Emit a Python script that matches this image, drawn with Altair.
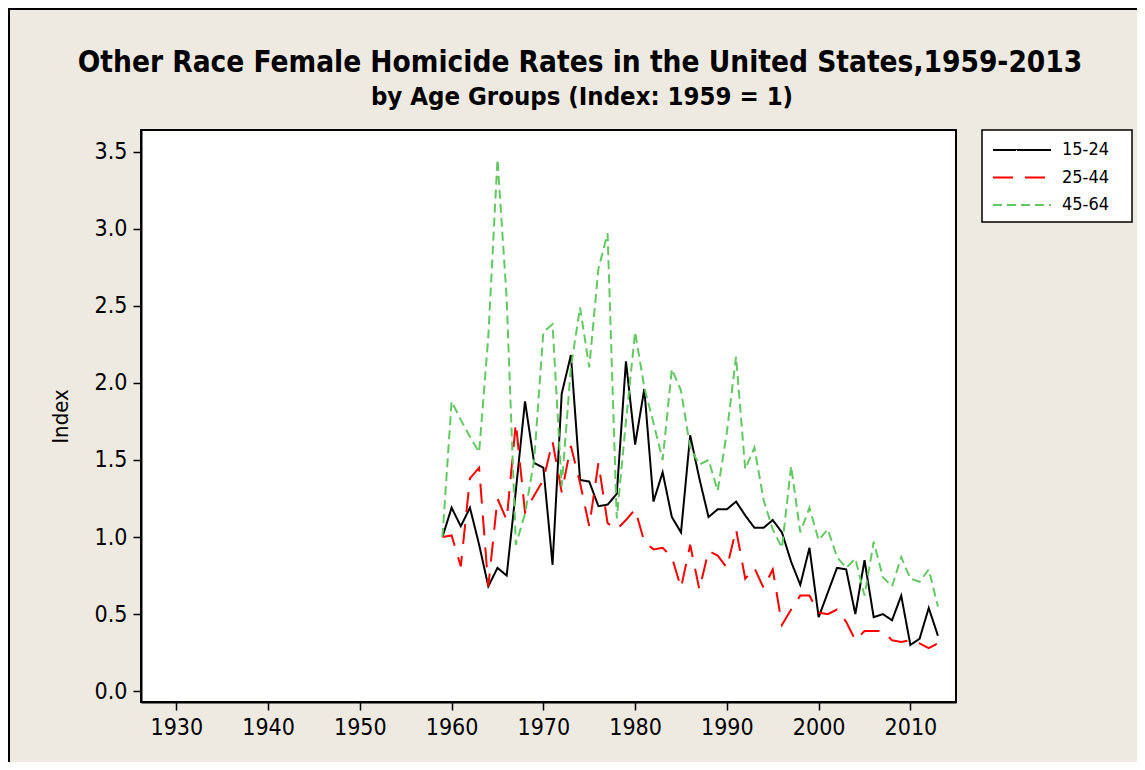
import altair as alt
import pandas as pd

years = list(range(1959, 2014))

age_15_24 = [1.00, 1.19, 1.07, 1.19, 0.95, 0.68, 0.80, 0.75, 1.30, 1.88,
             1.48, 1.45, 0.82, 1.93, 2.18, 1.37, 1.36, 1.20, 1.21, 1.28,
             2.14, 1.60, 1.96, 1.23, 1.42, 1.13, 1.03, 1.66, 1.38, 1.13,
             1.18, 1.18, 1.23, 1.14, 1.06, 1.06, 1.11, 1.03, 0.84, 0.69,
             0.93, 0.48, 0.64, 0.80, 0.79, 0.50, 0.85, 0.48, 0.50, 0.46,
             0.62, 0.30, 0.34, 0.54, 0.36]

age_25_44 = [1.00, 1.01, 0.81, 1.38, 1.45, 0.68, 1.25, 1.11, 1.74, 1.16,
             1.27, 1.37, 1.62, 1.29, 1.59, 1.35, 1.07, 1.48, 1.09, 1.05,
             1.11, 1.18, 0.97, 0.92, 0.93, 0.87, 0.67, 0.95, 0.66, 0.91,
             0.88, 0.80, 1.05, 0.73, 0.80, 0.67, 0.79, 0.43, 0.53, 0.62,
             0.62, 0.51, 0.50, 0.53, 0.45, 0.33, 0.39, 0.39, 0.39, 0.33,
             0.32, 0.33, 0.31, 0.28, 0.31]

age_45_64 = [1.00, 1.88, 1.76, 1.65, 1.55, 2.30, 3.45, 2.55, 0.95, 1.15,
             1.50, 2.33, 2.38, 1.33, 2.10, 2.49, 2.10, 2.74, 2.97, 1.12,
             1.75, 2.33, 1.97, 1.74, 1.50, 2.09, 1.95, 1.58, 1.47, 1.50,
             1.30, 1.68, 2.17, 1.44, 1.58, 1.24, 1.05, 0.93, 1.46, 1.03,
             1.19, 0.98, 1.05, 0.87, 0.80, 0.86, 0.62, 0.97, 0.74, 0.68,
             0.87, 0.73, 0.71, 0.79, 0.55]

groups = ["15-24", "25-44", "45-64"]
group_colors = ["#000000", "#FF0000", "#62C962"]
group_dashes = [[1, 0], [20, 12], [9, 5]]

x_ticks = [1930, 1940, 1950, 1960, 1970, 1980, 1990, 2000, 2010]
y_ticks = [0.0, 0.5, 1.0, 1.5, 2.0, 2.5, 3.0, 3.5]

title_text = "Other Race Female Homicide Rates in the United States,1959-2013"
subtitle_text = "by Age Groups (Index: 1959 = 1)"

rows = []
for g, vals in zip(groups, [age_15_24, age_25_44, age_45_64]):
    for yr, v in zip(years, vals):
        rows.append({"Year": yr, "Group": g, "Index": v})
df = pd.DataFrame(rows)

FONT = "DejaVu Sans Condensed, DejaVu Sans"
BG = "#EEEAE1"

lines = alt.Chart(df).mark_line(strokeWidth=2, clip=True).encode(
    x=alt.X("Year:Q",
            scale=alt.Scale(domain=[1926.15, 2014.97], nice=False, zero=False),
            axis=alt.Axis(values=x_ticks, format="d", title=None, labelPadding=6)),
    y=alt.Y("Index:Q",
            scale=alt.Scale(domain=[-0.07, 3.64], nice=False, zero=False),
            axis=alt.Axis(values=y_ticks, format=".1f", title="Index", labelPadding=6)),
    color=alt.Color("Group:N",
                    scale=alt.Scale(domain=groups, range=group_colors),
                    legend=alt.Legend(title=None)),
    strokeDash=alt.StrokeDash("Group:N",
                              scale=alt.Scale(domain=groups, range=group_dashes),
                              legend=alt.Legend(title=None)),
)

one = pd.DataFrame({"k": [0]})

frame = alt.Chart(one).mark_rect(
    fill=None, stroke="black", strokeWidth=2, clip=False
).encode(
    x=alt.value(-132), x2=alt.value(1200),
    y=alt.value(-121), y2=alt.value(900),
)

legend_box = alt.Chart(one).mark_rect(
    fill="white", stroke="black", strokeWidth=1.5, clip=False
).encode(
    x=alt.value(841), x2=alt.value(991),
    y=alt.value(0), y2=alt.value(92),
)

title_mark = alt.Chart(pd.DataFrame({"t": [title_text]})).mark_text(
    font=FONT, fontSize=29.5, fontWeight="bold", color="black",
    align="center", baseline="middle", clip=False
).encode(x=alt.value(439), y=alt.value(-67), text="t:N")

subtitle_mark = alt.Chart(pd.DataFrame({"t": [subtitle_text]})).mark_text(
    font=FONT, fontSize=25.5, fontWeight="bold", color="black",
    align="center", baseline="middle", clip=False
).encode(x=alt.value(441), y=alt.value(-33), text="t:N")

chart = alt.layer(frame, legend_box, title_mark, subtitle_mark, lines).properties(
    width=815,
    height=572,
    autosize=alt.AutoSizeParams(type="none"),
    padding={"left": 133, "top": 122, "right": 181, "bottom": 60},
    background=BG,
).configure_view(
    fill="white", stroke="black", strokeWidth=2
).configure_axis(
    labelFont=FONT, labelFontSize=23, labelColor="black",
    titleFont=FONT, titleFontSize=22, titleFontWeight="normal", titleColor="black",
    tickColor="black", tickSize=8, tickWidth=1.5,
    domainColor="black", domainWidth=2, grid=False,
).configure_axisY(
    titlePadding=22,
).configure_legend(
    orient="none", legendX=860, legendY=-1,
    padding=10,
    symbolType="M-3,0H3", symbolSize=374, symbolStrokeWidth=2,
    labelFont=FONT, labelFontSize=18, labelColor="black",
    labelOffset=29, rowPadding=7.5,
)

chart.save("out.html", embed_options={"renderer": "svg", "actions": False})
